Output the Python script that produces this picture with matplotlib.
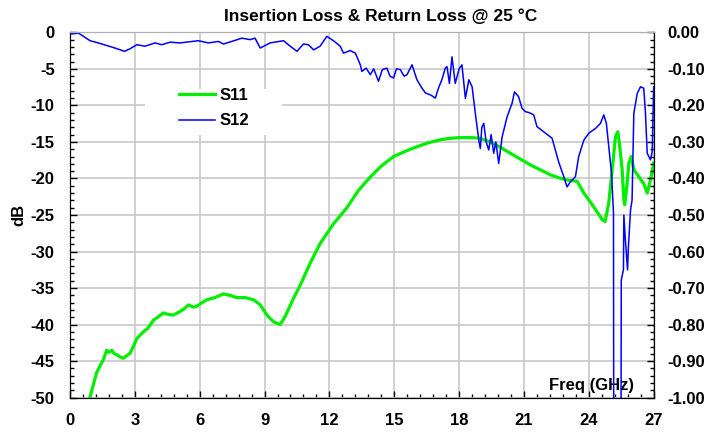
import numpy as np
import matplotlib.pyplot as plt
from matplotlib.ticker import MultipleLocator, FuncFormatter
from matplotlib.lines import Line2D
from matplotlib.patches import Rectangle

plt.rcParams['font.family'] = ['Liberation Sans', 'DejaVu Sans']
plt.rcParams['font.weight'] = 'bold'
plt.rcParams['axes.unicode_minus'] = False

# S11 (dB, left axis)
s11_f = [0.80, 0.93, 1.10, 1.23, 1.40, 1.54, 1.70, 1.80, 1.93, 2.05, 2.16, 2.30, 2.47,
         2.60, 2.78, 2.93, 3.09, 3.39, 3.60, 3.86, 4.10, 4.32, 4.55, 4.78, 5.09, 5.30,
         5.48, 5.70, 5.86, 6.10, 6.33, 6.70, 7.10, 7.40, 7.72, 8.10, 8.49, 8.80, 9.11,
         9.41, 9.72, 9.95, 10.34, 10.65, 11.11, 11.57, 12.19, 12.81, 13.35, 13.89,
         14.40, 14.97, 15.50, 16.05, 16.60, 17.13, 17.60, 18.06, 18.50, 18.98, 19.60,
         20.37, 21.30, 22.22, 22.60, 23.00, 23.46, 23.77, 24.23, 24.61, 24.75, 24.92,
         25.08, 25.23, 25.34, 25.43, 25.54, 25.62, 25.66, 25.77, 25.85, 25.96, 26.08,
         26.31, 26.54, 26.70, 26.85, 27.00]
s11_db = [-51.0, -49.9, -48.0, -46.6, -45.6, -44.8, -43.5, -43.8, -43.5, -44.0, -44.1,
          -44.4, -44.6, -44.3, -43.9, -43.0, -41.9, -41.0, -40.5, -39.4, -38.9, -38.4,
          -38.6, -38.7, -38.2, -37.8, -37.3, -37.6, -37.5, -37.0, -36.6, -36.3, -35.8,
          -36.0, -36.3, -36.3, -36.6, -37.3, -38.7, -39.6, -40.0, -38.9, -36.4, -34.6,
          -31.6, -28.9, -26.2, -24.0, -21.6, -19.8, -18.3, -17.0, -16.3, -15.65, -15.1,
          -14.7, -14.5, -14.4, -14.4, -14.5, -15.2, -16.55, -18.15, -19.5, -19.9, -20.2,
          -20.4, -22.0, -23.9, -25.6, -25.9, -23.4, -18.8, -14.3, -13.6, -15.6, -18.8,
          -22.9, -23.6, -20.7, -17.9, -17.0, -18.8, -19.75, -20.7, -22.0, -20.2, -17.9]

# S12 (right axis)
s12_f = [0.00, 0.39, 0.62, 0.93, 1.31, 1.70, 2.08, 2.52, 2.78, 3.09, 3.47, 3.94, 4.24,
         4.63, 5.09, 5.63, 5.94, 6.40, 6.87, 7.10, 7.48, 7.95, 8.33, 8.56, 8.80, 9.26,
         9.88, 10.10, 10.50, 10.80, 11.03, 11.27, 11.57, 11.88, 12.19, 12.50, 12.65,
         12.96, 13.20, 13.43, 13.50, 13.70, 13.89, 14.05, 14.27, 14.45, 14.66, 14.80,
         14.97, 15.10, 15.28, 15.45, 15.59, 15.82, 16.05, 16.25, 16.44, 16.70, 16.90,
         17.05, 17.20, 17.36, 17.44, 17.55, 17.67, 17.82, 18.00, 18.13, 18.29, 18.45,
         18.60, 18.75, 18.91, 18.98, 19.05, 19.14, 19.25, 19.37, 19.48, 19.60, 19.70,
         19.83, 19.99, 20.22, 20.45, 20.56, 20.75, 20.91, 21.06, 21.25, 21.45, 21.60,
         21.99, 22.30, 22.45, 22.60, 22.84, 22.99, 23.15, 23.38, 23.53, 23.77, 24.00,
         24.31, 24.54, 24.69, 24.81, 24.92, 25.05, 25.11, 25.14, 25.15, 25.49, 25.50,
         25.60, 25.62, 25.69, 25.79, 25.83, 25.93, 26.00, 26.08, 26.24, 26.39, 26.54,
         26.62, 26.70, 26.85, 26.93, 27.00]
s12_val = [-0.005, -0.002, -0.011, -0.023, -0.029, -0.036, -0.043, -0.052, -0.045, -0.034,
           -0.038, -0.029, -0.034, -0.027, -0.029, -0.025, -0.023, -0.029, -0.025, -0.032,
           -0.025, -0.016, -0.020, -0.016, -0.043, -0.029, -0.023, -0.034, -0.052, -0.032,
           -0.034, -0.048, -0.038, -0.011, -0.023, -0.038, -0.057, -0.050, -0.057, -0.089,
           -0.107, -0.098, -0.116, -0.100, -0.134, -0.102, -0.098, -0.120, -0.125, -0.100,
           -0.102, -0.120, -0.116, -0.089, -0.130, -0.150, -0.166, -0.172, -0.180, -0.152,
           -0.130, -0.098, -0.094, -0.140, -0.067, -0.140, -0.100, -0.089, -0.181, -0.130,
           -0.149, -0.222, -0.295, -0.318, -0.260, -0.249, -0.300, -0.322, -0.280, -0.331,
           -0.300, -0.359, -0.286, -0.231, -0.194, -0.163, -0.176, -0.208, -0.217, -0.220,
           -0.226, -0.258, -0.276, -0.290, -0.322, -0.354, -0.395, -0.423, -0.409, -0.395,
           -0.340, -0.295, -0.276, -0.263, -0.249, -0.226, -0.249, -0.313, -0.386, -0.459,
           -0.495, -1.050, -1.050, -0.678, -0.650, -0.500, -0.568, -0.650, -0.587, -0.486,
           -0.459, -0.222, -0.167, -0.149, -0.153, -0.222, -0.331, -0.349, -0.327, -0.149]

fig = plt.figure(figsize=(7.09, 4.32), dpi=100)
ax = fig.add_axes([0.0987, 0.0794, 0.8233, 0.8458])
ax2 = ax.twinx()

ax.plot(s11_f, s11_db, color='#00ee00', lw=2.3, solid_joinstyle='round')
ax2.plot(s12_f, s12_val, color='#0000ff', lw=1.1)

ax.set_xlim(0, 27)
ax.set_ylim(-50, 0)
ax2.set_ylim(-1.0, 0.0)

ax.xaxis.set_major_locator(MultipleLocator(3))
ax.xaxis.set_minor_locator(MultipleLocator(0.6))
ax.yaxis.set_major_locator(MultipleLocator(5))
ax.yaxis.set_minor_locator(MultipleLocator(1))
ax2.yaxis.set_major_locator(MultipleLocator(0.1))
ax2.yaxis.set_minor_locator(MultipleLocator(0.02))

ax.yaxis.set_major_formatter(FuncFormatter(lambda v, p: f"{int(round(v))}"))
ax2.yaxis.set_major_formatter(FuncFormatter(lambda v, p: "0.00" if abs(v) < 1e-9 else f"{v:.2f}"))

ax.grid(True, which='major', color='#c8c8c8', lw=1.2)
ax.set_axisbelow(True)

ax.tick_params(axis='x', which='both', direction='in', labelsize=12, pad=11, top=False)
ax.tick_params(axis='y', which='both', direction='in', labelsize=12, pad=11)
ax2.tick_params(axis='y', which='both', direction='in', labelsize=12, pad=10)
for a in (ax, ax2):
    a.tick_params(which='major', length=5, width=1)
    a.tick_params(which='minor', length=3, width=1)
    for lbl in a.get_xticklabels() + a.get_yticklabels():
        lbl.set_fontweight('bold')
    a.spines['top'].set_color('#b0b0b0')

ax.set_ylabel('dB', fontsize=12, fontweight='bold', labelpad=3)
ax.set_title('Insertion Loss & Return Loss @ 25 °C', fontsize=12.5, fontweight='bold',
             pad=8, x=0.533)
ax.text(0.967, 0.014, 'Freq (GHz)', transform=ax.transAxes, ha='right', va='bottom',
        fontsize=12, fontweight='bold')

# white area behind the legend hides the grid
ax.add_patch(Rectangle((0.128, 0.72), 0.236, 0.125, transform=ax.transAxes,
                       facecolor='white', edgecolor='none', zorder=1))
handles = [Line2D([], [], color='#00ee00', lw=2.3), Line2D([], [], color='#0000ff', lw=1.1)]
ax2.legend(handles, ['S11', 'S12'], loc='upper left', bbox_to_anchor=(0.1866, 0.848),
           frameon=False, borderaxespad=0, borderpad=0, prop={'weight': 'bold', 'size': 12},
           handlelength=2.15, handletextpad=0.3, labelspacing=0.63)

fig.savefig('out.png', dpi=100)
